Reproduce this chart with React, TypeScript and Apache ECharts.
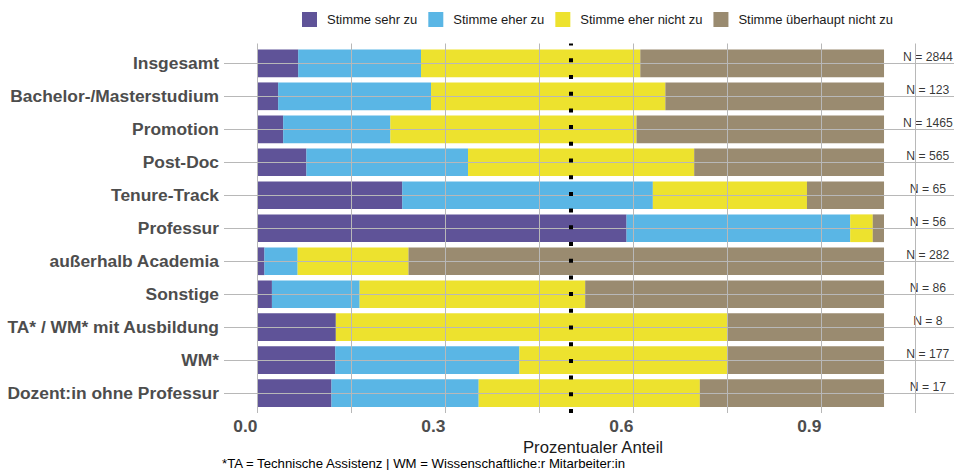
import React, { useEffect, useRef } from "react";
import * as echarts from "echarts";

const categories = [
  "Insgesamt",
  "Bachelor-/Masterstudium",
  "Promotion",
  "Post-Doc",
  "Tenure-Track",
  "Professur",
  "außerhalb Academia",
  "Sonstige",
  "TA* / WM* mit Ausbildung",
  "WM*",
  "Dozent:in ohne Professur",
];
const seriesNames = [
  "Stimme sehr zu",
  "Stimme eher zu",
  "Stimme eher nicht zu",
  "Stimme überhaupt nicht zu",
];
const sehrZu = [0.065, 0.033, 0.041, 0.078, 0.231, 0.589, 0.011, 0.023, 0.125, 0.124, 0.118];
const eherZu = [0.196, 0.244, 0.171, 0.258, 0.4, 0.357, 0.053, 0.14, 0, 0.294, 0.235];
const eherNichtZu = [0.35, 0.374, 0.393, 0.361, 0.246, 0.036, 0.177, 0.36, 0.625, 0.333, 0.353];
const ueberhauptNichtZu = [0.389, 0.349, 0.395, 0.303, 0.123, 0.018, 0.759, 0.477, 0.25, 0.249, 0.294];
const nValues = [2844, 123, 1465, 565, 65, 56, 282, 86, 8, 177, 17];
const tickLabels = [0, 0.3, 0.6, 0.9];
const gridValues = [0, 0.15, 0.3, 0.45, 0.6, 0.75, 0.9, 1.05];
const nLabelPos = 1.07;
const referenceLine = 0.5;
const footnote = "*TA = Technische Assistenz | WM = Wissenschaftliche:r Mitarbeiter:in";

const colors = ["#433586", "#3da9e1", "#eadd09", "#887757"];
const FONT = "'Liberation Sans', Arial, Helvetica, sans-serif";
const X_MIN = -0.0535;
const X_MAX = 1.1117;

export default function App() {
  const ref = useRef<HTMLDivElement>(null);
  useEffect(() => {
    if (!ref.current) return;
    const chart = echarts.init(ref.current, null, { renderer: "svg" });
    const values = [sehrZu, eherZu, eherNichtZu, ueberhauptNichtZu];
    const option: any = {
      animation: false,
      backgroundColor: "#ffffff",
      textStyle: { fontFamily: FONT },
      title: {
        text: footnote,
        left: 222,
        top: 456,
        padding: 0,
        textStyle: { fontSize: 13.2, fontWeight: "normal", color: "#000", fontFamily: FONT, lineHeight: 14 },
      },
      legend: {
        data: seriesNames,
        left: 302,
        top: 12,
        padding: 0,
        icon: "rect",
        itemWidth: 15,
        itemHeight: 15,
        itemGap: 11,
        textStyle: { fontSize: 13, color: "#1a1a1a", fontFamily: FONT, padding: [0, 0, 0, 5] },
      },
      grid: [
        { left: 224, right: 0, top: 46.8, bottom: 60.3, containLabel: false },
        { left: 224, right: 0, top: 43.5, bottom: 57, containLabel: false },
      ],
      xAxis: [
        {
          type: "value",
          gridIndex: 0,
          min: X_MIN,
          max: X_MAX,
          show: false,
          splitLine: { show: false },
        },
        {
          type: "value",
          gridIndex: 1,
          min: X_MIN,
          max: X_MAX,
          axisLine: { show: false },
          axisTick: { show: false },
          splitLine: { show: false },
          axisLabel: {
            customValues: tickLabels,
            formatter: (v: number) => v.toFixed(1),
            align: "right",
            margin: 4,
            fontSize: 17.4,
            fontWeight: "bold",
            color: "#4d4d4d",
            fontFamily: FONT,
          },
          name: "Prozentualer Anteil",
          nameLocation: "middle",
          nameGap: 17,
          nameTextStyle: {
            fontSize: 16.7,
            color: "#1a1a1a",
            fontFamily: FONT,
            lineHeight: 18,
            padding: [0, 0, 0, 8],
          },
        },
      ],
      yAxis: [
        {
          type: "category",
          gridIndex: 0,
          data: categories,
          inverse: true,
          axisLine: { show: false },
          axisTick: { show: false },
          splitLine: { show: false },
          axisLabel: {
            margin: 5,
            fontSize: 17.4,
            fontWeight: "bold",
            color: "#4d4d4d",
            fontFamily: FONT,
          },
        },
        { type: "value", gridIndex: 1, min: 0, max: 1, show: false },
      ],
      series: [
        {
          name: "vgrid",
          type: "line",
          xAxisIndex: 1,
          yAxisIndex: 1,
          data: [],
          silent: true,
          z: 1,
          markLine: {
            silent: true,
            symbol: "none",
            label: { show: false },
            lineStyle: { color: "#b8b8b8", width: 1, type: "solid" },
            data: gridValues.map((v) => ({ xAxis: v })),
          },
        },
        {
          name: "hgrid",
          type: "line",
          xAxisIndex: 0,
          yAxisIndex: 0,
          data: [],
          silent: true,
          z: 1,
          markLine: {
            silent: true,
            symbol: "none",
            label: { show: false },
            lineStyle: { color: "#b8b8b8", width: 1, type: "solid" },
            data: categories.map((c) => ({ yAxis: c })),
          },
        },
        ...seriesNames.map((name, i) => ({
          name,
          type: "bar",
          stack: "total",
          xAxisIndex: 0,
          yAxisIndex: 0,
          barCategoryGap: "16%",
          z: 2,
          itemStyle: { color: colors[i], opacity: 0.85 },
          data: values[i],
        })),
        {
          name: "nlabels",
          type: "scatter",
          xAxisIndex: 0,
          yAxisIndex: 0,
          symbolSize: 0,
          z: 3,
          silent: true,
          data: nValues.map((n, i) => [nLabelPos, categories[i], n]),
          label: {
            show: true,
            position: "inside",
            offset: [0, -6.5],
            formatter: (p: any) => "N = " + p.data[2],
            fontSize: 12.2,
            color: "#000",
            fontFamily: FONT,
          },
        },
        {
          name: "refline",
          type: "line",
          xAxisIndex: 1,
          yAxisIndex: 1,
          data: [],
          silent: true,
          z: 5,
          markLine: {
            silent: true,
            symbol: "none",
            label: { show: false },
            lineStyle: { color: "#000", width: 4, type: [4, 12.7], cap: "butt" },
            data: [{ xAxis: referenceLine }],
          },
        },
      ],
    };
    chart.setOption(option);
    return () => chart.dispose();
  }, []);
  return (
    <div
      ref={ref}
      style={{ position: "fixed", left: 0, top: 0, width: 954, height: 470, background: "#fff" }}
    />
  );
}
